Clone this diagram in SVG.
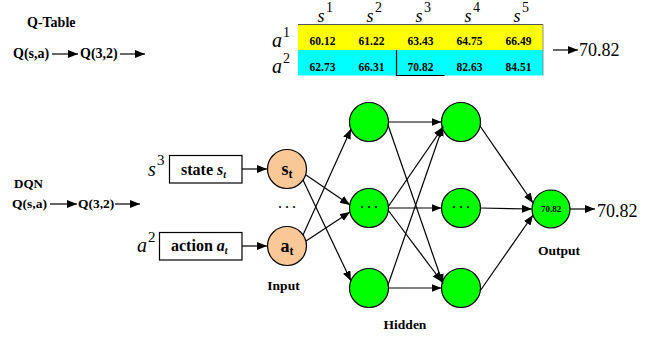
<svg xmlns="http://www.w3.org/2000/svg" width="652" height="337" viewBox="0 0 652 337">
<style>
  text { font-family: "Liberation Serif", "Times New Roman", serif; fill: #000; }
  .b { font-weight: bold; }
  .lab { font-weight: bold; font-size: 13.5px; }
  .num { font-weight: bold; font-size: 11.5px; text-anchor: middle; }
  .it { font-style: italic; }
  .big { font-size: 18px; }
  .ln { stroke: #000; stroke-width: 1.2; fill: none; }
  .arr { stroke: #000; stroke-width: 1.2; fill: none; marker-end: url(#ah); }
  .hid { fill: #00FF00; stroke: #000; stroke-width: 1.2; }
  .inp { fill: #FAC896; stroke: #000; stroke-width: 1.2; }
  .box { fill: #fff; stroke: #000; stroke-width: 1.2; }
</style>
<defs>
  <marker id="ah" markerUnits="userSpaceOnUse" markerWidth="11" markerHeight="9" refX="10" refY="4" orient="auto">
    <path d="M0,0 L10,4 L0,8 z" fill="#000"/>
  </marker>
</defs>

<!-- Q-Table section -->
<g id="qtable-label">
  <text class="b" x="27" y="27" font-size="14">Q-Table</text>
  <text class="b" x="13" y="58" font-size="14">Q(s,a)</text>
  <text class="b" x="80" y="58" font-size="14">Q(3,2)</text>
</g>

<g id="qtable">
  <rect x="298" y="24.5" width="245" height="25.5" fill="#FFFF00"/>
  <rect x="298" y="50" width="245" height="25.5" fill="#00FFFF"/>
  <line x1="298" y1="24.5" x2="543" y2="24.5" stroke="#555" stroke-width="1"/>
  <line x1="543" y1="24.5" x2="543" y2="75.5" stroke="#777" stroke-width="0.8"/>
  <path d="M396.5,50 V75.5 H444.5" fill="none" stroke="#000" stroke-width="1.2"/>
  <!-- header -->
  <text class="it big" x="317.5" y="22">s</text><text x="326" y="12" font-size="14">1</text>
  <text class="it big" x="366.5" y="22">s</text><text x="375" y="12" font-size="14">2</text>
  <text class="it big" x="415.5" y="22">s</text><text x="424" y="12" font-size="14">3</text>
  <text class="it big" x="464.5" y="22">s</text><text x="473" y="12" font-size="14">4</text>
  <text class="it big" x="513.5" y="22">s</text><text x="522" y="12" font-size="14">5</text>
  <text class="it" x="272" y="47" font-size="20">a</text><text x="283" y="37" font-size="14">1</text>
  <text class="it" x="272" y="73" font-size="20">a</text><text x="283" y="63" font-size="14">2</text>
  <!-- values -->
  <text class="num" x="322.5" y="45">60.12</text>
  <text class="num" x="371.5" y="45">61.22</text>
  <text class="num" x="420.5" y="45">63.43</text>
  <text class="num" x="469.5" y="45">64.75</text>
  <text class="num" x="518.5" y="45">66.49</text>
  <text class="num" x="322.5" y="71">62.73</text>
  <text class="num" x="371.5" y="71">66.31</text>
  <text class="num" x="420.5" y="71">70.82</text>
  <text class="num" x="469.5" y="71">82.63</text>
  <text class="num" x="518.5" y="71">84.51</text>
  <text x="579" y="56" font-size="18">70.82</text>
</g>

<!-- DQN section labels -->
<g id="dqn-label">
  <text class="b" x="14" y="188" font-size="13">DQN</text>
  <text class="b" x="12" y="208" font-size="13.5">Q(s,a)</text>
  <text class="b" x="78" y="208" font-size="13.5">Q(3,2)</text>
</g>

<g id="state-box">
  <text class="it" x="148" y="176" font-size="20">s</text>
  <text x="157" y="165" font-size="15">3</text>
  <rect class="box" x="169.5" y="155.5" width="72.5" height="27.5"/>
  <text class="b" x="181" y="175" font-size="16">state <tspan class="it">s</tspan><tspan class="it" font-size="10" dy="3">t</tspan></text>
</g>

<g id="action-box">
  <text class="it" x="137" y="252" font-size="20">a</text>
  <text x="148" y="242" font-size="15">2</text>
  <rect class="box" x="159.5" y="232.5" width="82.5" height="27.5"/>
  <text class="b" x="171" y="251" font-size="16">action <tspan class="it">a</tspan><tspan class="it" font-size="10" dy="3">t</tspan></text>
</g>

<g id="input-st">
  <circle class="inp" cx="287" cy="169" r="19.5"/>
  <text class="b" x="287" y="175" font-size="18" text-anchor="middle">s<tspan font-size="12" dy="3">t</tspan></text>
</g>
<g id="input-dots">
  <text class="b" x="287" y="211" font-size="12" text-anchor="middle">· · ·</text>
</g>
<g id="input-at">
  <circle class="inp" cx="287" cy="246" r="19.5"/>
  <text class="b" x="287" y="252" font-size="18" text-anchor="middle">a<tspan font-size="12" dy="3">t</tspan></text>
</g>
<g id="input-label"><text class="lab" x="283.5" y="290" text-anchor="middle" font-size="13">Input</text></g>

<g id="h1-top"><circle class="hid" cx="369" cy="122" r="19.5"/></g>
<g id="h1-mid"><circle class="hid" cx="369" cy="208" r="19.5"/><text class="b" x="369" y="211" font-size="12" text-anchor="middle">· · ·</text></g>
<g id="h1-bot"><circle class="hid" cx="369" cy="288" r="19.5"/></g>
<g id="h2-top"><circle class="hid" cx="461" cy="122" r="19.5"/></g>
<g id="h2-mid"><circle class="hid" cx="461" cy="208" r="19.5"/><text class="b" x="461" y="211" font-size="12" text-anchor="middle">· · ·</text></g>
<g id="h2-bot"><circle class="hid" cx="461" cy="288" r="19.5"/></g>
<g id="hidden-label"><text class="lab" x="405" y="329" text-anchor="middle" font-size="13">Hidden</text></g>

<g id="output">
  <circle class="hid" cx="551" cy="209" r="19"/>
  <text class="b" x="551" y="212" font-size="9" text-anchor="middle">70.82</text>
  <text x="597" y="217" font-size="18">70.82</text>
</g>
<g id="output-label"><text class="lab" x="559" y="255" text-anchor="middle">Output</text></g>

<g id="connectors">
  <!-- top section -->
  <line class="arr" x1="52" y1="54" x2="78" y2="54"/>
  <line class="arr" x1="120" y1="54" x2="145" y2="54"/>
  <line class="arr" x1="553" y1="50" x2="578" y2="50"/>
  <!-- DQN section -->
  <line class="arr" x1="50" y1="204" x2="77" y2="204"/>
  <line class="arr" x1="115" y1="204" x2="140" y2="204"/>
  <line class="arr" x1="242" y1="169" x2="267" y2="169"/>
  <line class="arr" x1="242" y1="246" x2="267" y2="246"/>
  <!-- input to hidden 1 -->
  <line class="arr" x1="306" y1="175" x2="350" y2="205"/>
  <line class="arr" x1="306" y1="241" x2="350" y2="212"/>
  <line class="arr" x1="303" y1="180" x2="351" y2="281"/>
  <line class="arr" x1="303" y1="235" x2="351" y2="129"/>
  <!-- hidden 1 to hidden 2 -->
  <line class="arr" x1="388.5" y1="122" x2="441.5" y2="122"/>
  <line class="arr" x1="388" y1="125" x2="443" y2="284"/>
  <line class="arr" x1="388" y1="207" x2="443" y2="127"/>
  <line class="arr" x1="388.5" y1="208" x2="441.5" y2="208"/>
  <line class="arr" x1="388" y1="210" x2="442" y2="282"/>
  <line class="arr" x1="388" y1="285" x2="443" y2="126"/>
  <line class="arr" x1="388.5" y1="288" x2="441.5" y2="288"/>
  <!-- hidden 2 to output -->
  <line class="arr" x1="480" y1="126" x2="533" y2="203"/>
  <line class="arr" x1="480.5" y1="208" x2="532" y2="209"/>
  <line class="arr" x1="480" y1="291" x2="533" y2="215"/>
  <line class="arr" x1="570" y1="209" x2="595" y2="209"/>
</g>
</svg>
